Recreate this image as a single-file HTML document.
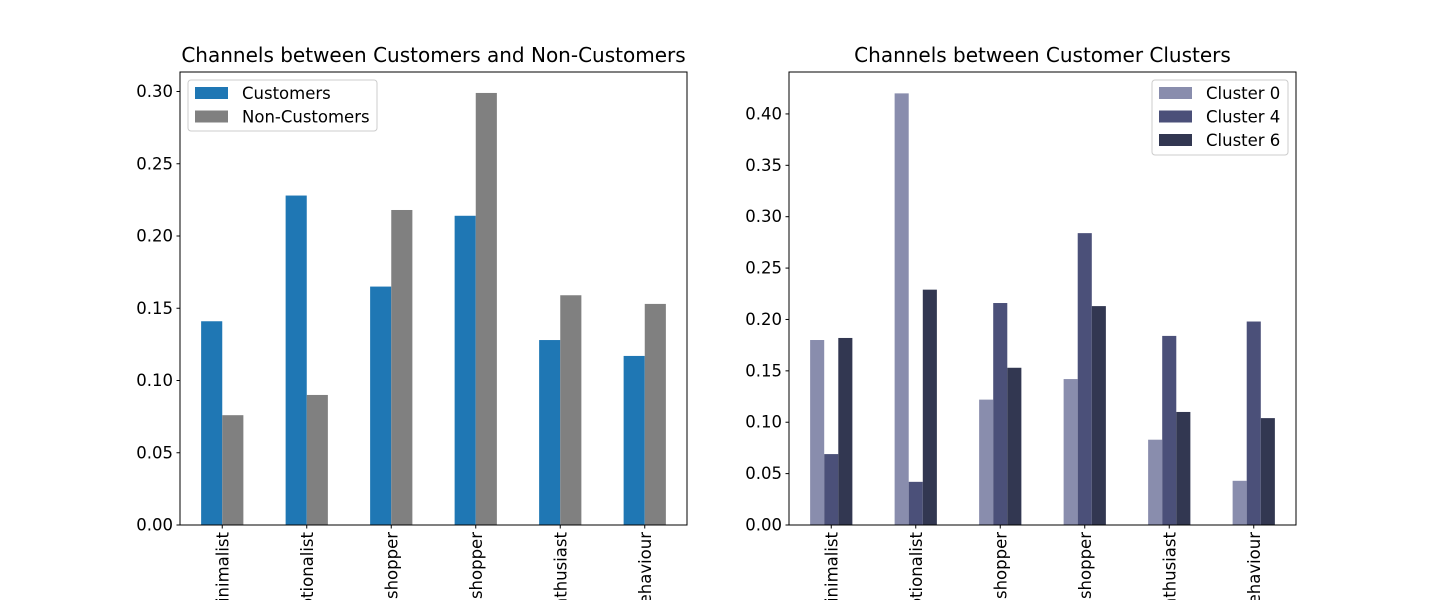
<!DOCTYPE html>
<html><head><meta charset="utf-8"><style>
html,body{margin:0;padding:0;background:#fff;overflow:hidden;width:1440px;height:600px}
svg{display:block;font-family:"DejaVu Sans","Liberation Sans",sans-serif}
</style></head><body>
<svg id="c" width="1440" height="600" viewBox="0 0 1440 600"></svg>
<script>
const categories=["Minimalist","Promotionalist","Online shopper","Offline shopper","Tech enthusiast","Random behaviour"];
const customers=[0.141,0.228,0.165,0.214,0.128,0.117];
const nonCustomers=[0.076,0.090,0.218,0.299,0.159,0.153];
const cluster0=[0.180,0.420,0.122,0.142,0.083,0.043];
const cluster4=[0.069,0.042,0.216,0.284,0.184,0.198];
const cluster6=[0.182,0.229,0.153,0.213,0.110,0.104];
const leftTicks=[0,0.05,0.10,0.15,0.20,0.25,0.30];
const rightTicks=[0,0.05,0.10,0.15,0.20,0.25,0.30,0.35,0.40];
const NS="http://www.w3.org/2000/svg";
const svg=document.getElementById('c');
function mk(t,a,p){const e=document.createElementNS(NS,t);for(const k in a)e.setAttribute(k,a[k]);(p||svg).appendChild(e);return e;}
function panel(name,x0,x1,yTop,yBot,ymax,ticks,series,colors,labels,title,legendAnchorRight){
  const g=mk('g',{});
  
  
  const n=categories.length;
  const xs=i=>x0+(i+0.5)*(x1-x0)/n;
  const ys=v=>yBot-v/ymax*(yBot-yTop);
  const bw=0.5/series.length*(x1-x0)/n;
  series.forEach((s,si)=>{s.forEach((v,i)=>{
    const bx=xs(i)-0.25*(x1-x0)/n+si*bw;
    const r=mk('rect',{x:bx,y:ys(v),width:bw,height:yBot-ys(v),fill:colors[si]},g);
    
    
  });});
  const fr=mk('rect',{x:x0,y:yTop,width:x1-x0,height:yBot-yTop,fill:'none',stroke:'#000','stroke-width':1},g);
  
  ticks.forEach(t=>{
    const y=ys(t);
    mk('line',{x1:x0-3.5,x2:x0,y1:y,y2:y,stroke:'#000'},g);
    const tx=mk('text',{x:x0-7,y:y+5.5,'text-anchor':'end','font-size':16.5},g);
    tx.textContent=t.toFixed(2);
    
  });
  categories.forEach((c,i)=>{
    const x=xs(i);
    mk('line',{x1:x,x2:x,y1:yBot,y2:yBot+3.5,stroke:'#000'},g);
    const tx=mk('text',{x:0,y:0,'text-anchor':'end','font-size':16.5,transform:`translate(${x+6},${yBot+7}) rotate(-90)`},g);
    tx.textContent=c;
    
  });
  const tt=mk('text',{x:(x0+x1)/2,y:yTop-10,'text-anchor':'middle','font-size':20},g);
  tt.textContent=title;
  
  const lw=legendAnchorRight?136:189, lh=3+labels.length*24;
  const lx=legendAnchorRight?x1-8-lw:x0+8, ly=yTop+8;
  const lg=mk('g',{},g);
  
  mk('rect',{x:lx,y:ly,width:lw,height:lh,rx:3,fill:'#fff','fill-opacity':0.8,stroke:'#ccc'},lg);
  labels.forEach((l,i)=>{
    const e=mk('g',{},lg);
    
    mk('rect',{x:lx+7,y:ly+7+i*23.5,width:33,height:12,fill:colors[i]},e);
    const t=mk('text',{x:lx+54,y:ly+19+i*23.5,'font-size':16.5},e);
    t.textContent=l;
  });
}
panel('left-chart',180,687,72,525,0.3135,leftTicks,[customers,nonCustomers],['#1f77b4','#808080'],['Customers','Non-Customers'],'Channels between Customers and Non-Customers',false);
panel('right-chart',789,1296,72,525,0.4408,rightTicks,[cluster0,cluster4,cluster6],['#898dad','#4b5079','#323751'],['Cluster 0','Cluster 4','Cluster 6'],'Channels between Customer Clusters',true);
</script>
</body></html>
